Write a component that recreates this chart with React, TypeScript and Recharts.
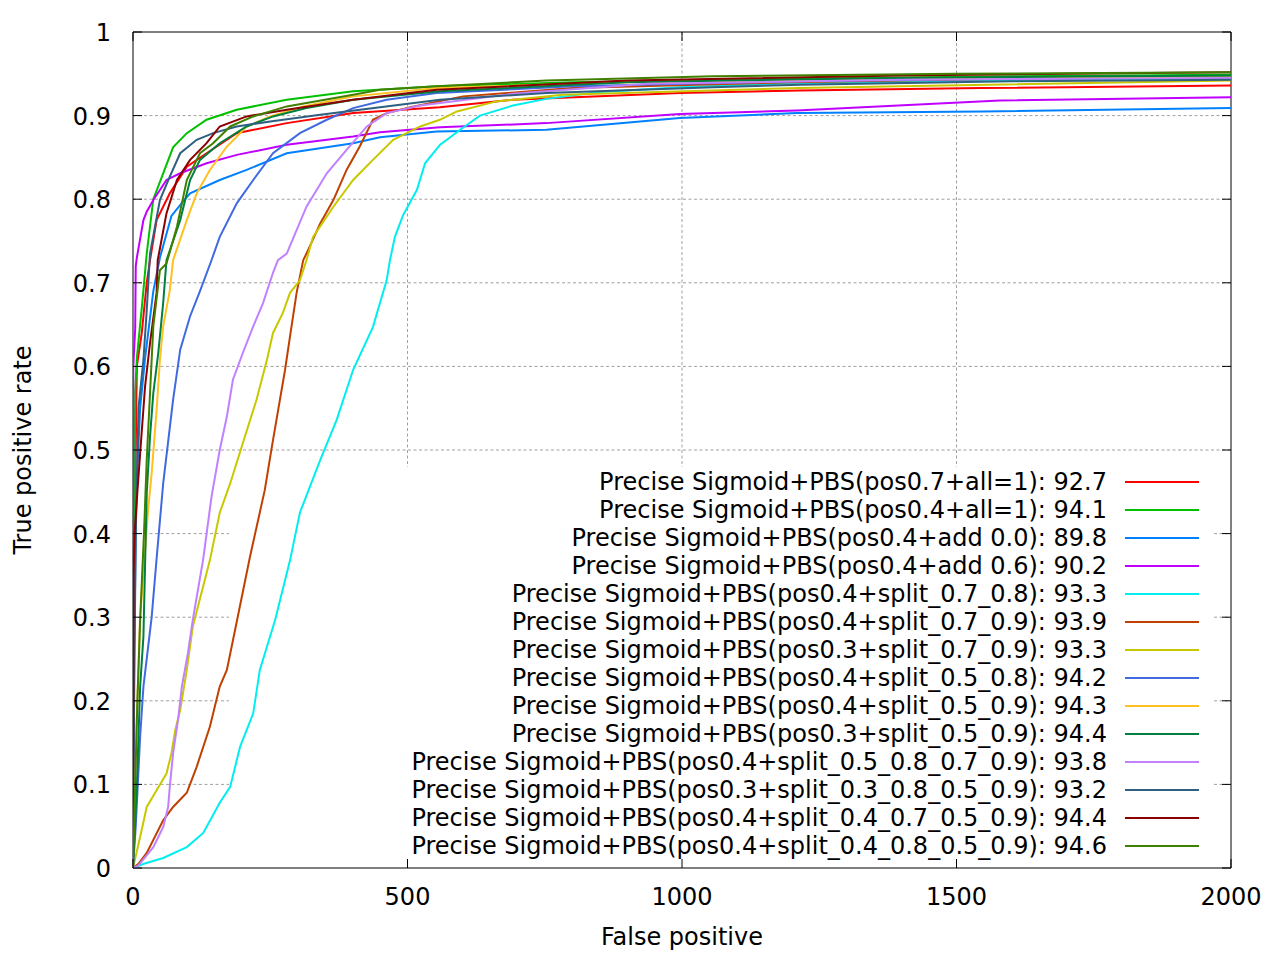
import { LineChart, Line, XAxis, YAxis, CartesianGrid, ReferenceArea, Legend, Label } from 'recharts';

// ROC curves, [false positives, true positive rate]
const pos07All1 = [[0,0],[1,0.15],[2,0.3],[4,0.45],[7,0.6],[16,0.64],[25,0.7],[31,0.727],[43,0.775],[67,0.807],[98,0.839],[134,0.855],[189,0.879],[280,0.891],[401,0.903],[559,0.91],[692,0.919],[996,0.927],[1215,0.93],[1543,0.933],[2000,0.936]];
const pos04All1 = [[0,0],[1,0.2],[3,0.45],[4,0.57],[7,0.61],[16,0.67],[25,0.735],[37,0.8],[55,0.831],[73,0.862],[98,0.879],[134,0.895],[189,0.907],[280,0.919],[401,0.929],[553,0.935],[800,0.94],[1200,0.944],[1600,0.947],[2000,0.949]];
const pos04Add00 = [[0,0],[2,0.25],[6,0.45],[13,0.55],[22,0.61],[37,0.69],[49,0.73],[70,0.78],[91,0.797],[104,0.807],[158,0.823],[207,0.835],[280,0.855],[401,0.867],[450,0.874],[553,0.881],[753,0.883],[996,0.897],[1209,0.903],[1548,0.905],[2000,0.909]];
const pos04Add06 = [[0,0],[0.5,0.6],[4,0.645],[5,0.72],[7,0.73],[19,0.775],[25,0.785],[37,0.799],[61,0.823],[86,0.831],[134,0.843],[189,0.853],[280,0.865],[401,0.875],[450,0.88],[559,0.886],[753,0.891],[996,0.902],[1209,0.906],[1579,0.918],[2000,0.922]];
const pos04Split78 = [[0,0],[20,0.005],[55,0.012],[98,0.025],[128,0.042],[158,0.078],[177,0.097],[195,0.145],[219,0.185],[231,0.237],[259,0.297],[286,0.368],[304,0.425],[341,0.488],[371,0.536],[401,0.596],[437,0.647],[462,0.703],[468,0.727],[477,0.755],[492,0.781],[517,0.811],[532,0.843],[559,0.865],[596,0.883],[632,0.9],[692,0.912],[753,0.92],[845,0.928],[996,0.934],[1178,0.938],[1600,0.942],[2000,0.944]];
const pos04Split79 = [[0,0],[10,0.005],[25,0.018],[55,0.057],[73,0.073],[98,0.09],[116,0.121],[140,0.169],[158,0.217],[171,0.237],[186,0.285],[213,0.372],[240,0.452],[253,0.504],[265,0.55],[277,0.596],[286,0.636],[298,0.688],[310,0.727],[316,0.735],[341,0.771],[365,0.799],[389,0.835],[413,0.863],[437,0.895],[462,0.903],[505,0.91],[601,0.923],[800,0.933],[1200,0.94],[1600,0.944],[2000,0.947]];
const pos03Split79 = [[0,0],[13,0.037],[25,0.073],[43,0.093],[61,0.113],[70,0.137],[77,0.165],[86,0.189],[98,0.237],[109,0.289],[140,0.368],[158,0.425],[177,0.46],[200,0.508],[225,0.56],[244,0.608],[255,0.64],[273,0.664],[286,0.688],[304,0.703],[316,0.727],[328,0.755],[365,0.791],[401,0.823],[437,0.847],[474,0.871],[523,0.887],[559,0.895],[590,0.905],[662,0.917],[783,0.925],[1215,0.933],[2000,0.942]];
const pos04Split58 = [[0,0],[5,0.05],[13,0.157],[19,0.217],[34,0.3],[43,0.37],[55,0.46],[64,0.51],[73,0.56],[86,0.62],[104,0.66],[122,0.69],[143,0.727],[158,0.755],[189,0.795],[219,0.823],[255,0.855],[304,0.879],[353,0.895],[401,0.909],[462,0.919],[553,0.927],[800,0.935],[1200,0.941],[1600,0.944],[2000,0.946]];
const pos04Split59 = [[0,0],[3,0.1],[8,0.2],[13,0.3],[22,0.38],[28,0.432],[34,0.472],[43,0.548],[49,0.608],[55,0.648],[67,0.691],[73,0.727],[98,0.775],[116,0.807],[140,0.835],[171,0.863],[207,0.887],[250,0.899],[310,0.911],[401,0.923],[553,0.933],[900,0.94],[1400,0.944],[2000,0.946]];
const pos03Split59 = [[0,0],[7,0.097],[13,0.217],[19,0.277],[25,0.448],[31,0.516],[37,0.568],[46,0.616],[55,0.676],[61,0.727],[86,0.775],[104,0.823],[122,0.847],[158,0.867],[207,0.887],[255,0.899],[316,0.909],[401,0.919],[559,0.929],[900,0.94],[1400,0.945],[2000,0.948]];
const pos04Split5879 = [[0,0],[10,0.003],[37,0.025],[55,0.049],[64,0.073],[67,0.097],[73,0.137],[82,0.177],[89,0.217],[100,0.257],[109,0.297],[128,0.37],[143,0.444],[158,0.5],[171,0.54],[182,0.584],[200,0.616],[219,0.648],[237,0.676],[255,0.712],[264,0.727],[280,0.735],[316,0.791],[353,0.831],[389,0.859],[426,0.887],[462,0.903],[523,0.912],[692,0.926],[936,0.938],[1400,0.943],[2000,0.945]];
const pos03Split3859 = [[0,0],[2,0.2],[5,0.4],[10,0.55],[19,0.608],[25,0.667],[31,0.735],[49,0.799],[67,0.827],[86,0.855],[116,0.871],[146,0.879],[189,0.887],[250,0.893],[341,0.901],[450,0.91],[559,0.919],[753,0.927],[1057,0.934],[1215,0.937],[1600,0.941],[2000,0.943]];
const pos04Split4759 = [[0,0],[1,0.35],[3,0.4],[8,0.45],[13,0.496],[22,0.576],[31,0.628],[43,0.688],[45,0.727],[61,0.783],[80,0.823],[104,0.847],[134,0.867],[158,0.887],[207,0.899],[280,0.907],[401,0.919],[553,0.931],[900,0.942],[1400,0.948],[2000,0.952]];
const pos04Split4859 = [[0,0],[4,0.1],[8,0.2],[13,0.297],[20,0.4],[25,0.488],[31,0.568],[37,0.648],[49,0.715],[61,0.723],[80,0.767],[98,0.823],[122,0.855],[146,0.867],[177,0.887],[219,0.899],[280,0.911],[401,0.925],[450,0.931],[553,0.935],[753,0.942],[1057,0.947],[1500,0.95],[2000,0.952]];

const labels = [
  'Precise Sigmoid+PBS(pos0.7+all=1): 92.7',
  'Precise Sigmoid+PBS(pos0.4+all=1): 94.1',
  'Precise Sigmoid+PBS(pos0.4+add 0.0): 89.8',
  'Precise Sigmoid+PBS(pos0.4+add 0.6): 90.2',
  'Precise Sigmoid+PBS(pos0.4+split_0.7_0.8): 93.3',
  'Precise Sigmoid+PBS(pos0.4+split_0.7_0.9): 93.9',
  'Precise Sigmoid+PBS(pos0.3+split_0.7_0.9): 93.3',
  'Precise Sigmoid+PBS(pos0.4+split_0.5_0.8): 94.2',
  'Precise Sigmoid+PBS(pos0.4+split_0.5_0.9): 94.3',
  'Precise Sigmoid+PBS(pos0.3+split_0.5_0.9): 94.4',
  'Precise Sigmoid+PBS(pos0.4+split_0.5_0.8_0.7_0.9): 93.8',
  'Precise Sigmoid+PBS(pos0.3+split_0.3_0.8_0.5_0.9): 93.2',
  'Precise Sigmoid+PBS(pos0.4+split_0.4_0.7_0.5_0.9): 94.4',
  'Precise Sigmoid+PBS(pos0.4+split_0.4_0.8_0.5_0.9): 94.6',
];
const curves = [pos07All1, pos04All1, pos04Add00, pos04Add06, pos04Split78, pos04Split79, pos03Split79,
  pos04Split58, pos04Split59, pos03Split59, pos04Split5879, pos03Split3859, pos04Split4759, pos04Split4859];
const colors = ['#ff0000', '#00c000', '#0080ff', '#c000ff', '#00eeee', '#c04000', '#c8c800',
  '#4169e1', '#ffc020', '#008040', '#c080ff', '#306080', '#8b0000', '#408000'];

const xTicks = [0, 500, 1000, 1500, 2000];
const yTicks = [0, 0.1, 0.2, 0.3, 0.4, 0.5, 0.6, 0.7, 0.8, 0.9, 1];

const series = labels.map((name, i) => ({
  name,
  color: colors[i],
  data: curves[i].map(([fp, tpr]) => ({ fp, tpr })),
}));

const FONT = '"DejaVu Sans", sans-serif';
const PLOT_LEFT = 133;
const PLOT_RIGHT = 1231;
const PLOT_TOP = 32;
const PLOT_BOTTOM = 868;
const TICK = 9;
// the key box; grid lines are not drawn through it
const KEY = { left: 229, right: 1214, top: 467, bottom: 870 };
const GRID = { stroke: '#a0a0a0', strokeWidth: 1, strokeDasharray: '3 2.5' };

const hGrid = (p: any) => {
  const y = p.y1;
  if (Math.abs(y - PLOT_TOP) < 1 || Math.abs(y - PLOT_BOTTOM) < 1) return <g key={`h${y}`} />;
  if (y > KEY.top && y < KEY.bottom) {
    return (
      <g key={`h${y}`}>
        <line x1={p.x1} x2={KEY.left} y1={y} y2={y} {...GRID} />
        <line x1={KEY.right} x2={p.x2} y1={y} y2={y} {...GRID} />
      </g>
    );
  }
  return <line key={`h${y}`} x1={p.x1} x2={p.x2} y1={y} y2={y} {...GRID} />;
};

const vGrid = (p: any) => {
  const x = p.x1;
  if (Math.abs(x - PLOT_LEFT) < 1 || Math.abs(x - PLOT_RIGHT) < 1) return <g key={`v${x}`} />;
  const y2 = x > KEY.left && x < KEY.right ? KEY.top : p.y2;
  return <line key={`v${x}`} x1={x} x2={x} y1={p.y1} y2={y2} {...GRID} />;
};

const XTick = (p: any) => (
  <g>
    <line x1={p.x} x2={p.x} y1={PLOT_BOTTOM} y2={PLOT_BOTTOM - TICK} stroke="#000" />
    <line x1={p.x} x2={p.x} y1={PLOT_TOP} y2={PLOT_TOP + TICK} stroke="#000" />
    <text x={p.x} y={PLOT_BOTTOM + 37} textAnchor="middle" fontFamily={FONT} fontSize={24} fill="#000">
      {String(p.payload.value)}
    </text>
  </g>
);

const YTick = (p: any) => (
  <g>
    <line x1={PLOT_LEFT} x2={PLOT_LEFT + TICK} y1={p.y} y2={p.y} stroke="#000" />
    <line x1={PLOT_RIGHT - TICK} x2={PLOT_RIGHT} y1={p.y} y2={p.y} stroke="#000" />
    <text x={PLOT_LEFT - 22} y={p.y + 9} textAnchor="end" fontFamily={FONT} fontSize={24} fill="#000">
      {String(p.payload.value)}
    </text>
  </g>
);

const renderKey = () => (
  <div style={{ fontFamily: FONT, fontSize: 24, color: '#000' }}>
    {series.map((s) => (
      <div key={s.name} style={{ display: 'flex', alignItems: 'center', height: 28, lineHeight: '28px' }}>
        <span style={{ width: 1107, textAlign: 'right', whiteSpace: 'nowrap' }}>{s.name}</span>
        <span style={{ marginLeft: 18, width: 74, height: 2, background: s.color }} />
      </div>
    ))}
  </div>
);

export default function App() {
  return (
    <div style={{ position: 'absolute', left: 0, top: 0, background: '#fff' }}>
      <style>{'body{margin:0;background:#fff}'}</style>
      <LineChart width={1280} height={960} margin={{ top: 32, right: 49, left: 0, bottom: 0 }}>
        <CartesianGrid horizontal={hGrid} vertical={vGrid} />
        <XAxis
          dataKey="fp"
          type="number"
          domain={[0, 2000]}
          ticks={xTicks}
          allowDataOverflow
          height={92}
          axisLine={false}
          tickLine={false}
          tickSize={0}
          tick={XTick}
        >
          <Label
            content={(p: any) => (
              <text x={p.viewBox.x + p.viewBox.width / 2} y={945} textAnchor="middle" fontFamily={FONT} fontSize={24} fill="#000">
                False positive
              </text>
            )}
          />
        </XAxis>
        <YAxis
          type="number"
          domain={[0, 1]}
          ticks={yTicks}
          allowDataOverflow
          width={133}
          axisLine={false}
          tickLine={false}
          tickSize={0}
          tick={YTick}
        >
          <Label
            content={(p: any) => {
              const cy = p.viewBox.y + p.viewBox.height / 2;
              return (
                <text x={31} y={cy} transform={`rotate(-90 31 ${cy})`} textAnchor="middle" fontFamily={FONT} fontSize={24} fill="#000">
                  True positive rate
                </text>
              );
            }}
          />
        </YAxis>
        <ReferenceArea x1={0} x2={2000} y1={0} y2={1} fill="none" stroke="#000" strokeWidth={1} strokeOpacity={1} fillOpacity={0} />
        {series.map((s) => (
          <Line
            key={s.name}
            name={s.name}
            data={s.data}
            dataKey="tpr"
            type="linear"
            stroke={s.color}
            strokeWidth={2}
            dot={false}
            activeDot={false}
            isAnimationActive={false}
          />
        ))}
        <Legend
          layout="horizontal"
          verticalAlign="middle"
          align="center"
          width={1280}
          wrapperStyle={{ left: 0, top: 468, width: 1280 }}
          content={renderKey}
        />
      </LineChart>
    </div>
  );
}
